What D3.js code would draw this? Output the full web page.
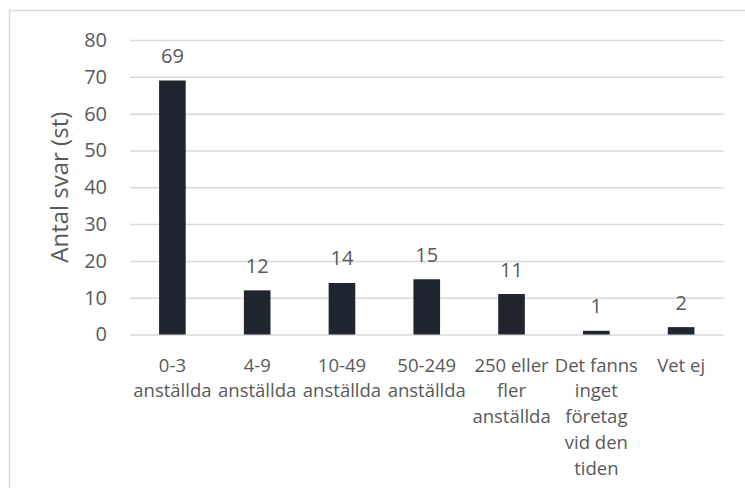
<!DOCTYPE html>
<html>
<head>
<meta charset="utf-8">
<script src="https://cdn.jsdelivr.net/npm/d3@7"></script>
<style>
  html, body { margin: 0; padding: 0; background: #fff; }
  svg { display: block; font-family: "Open Sans", "Noto Sans", sans-serif; }
</style>
</head>
<body>
<svg id="chart" width="745" height="488"></svg>
<script>
// Företagsstorlek: antal svar per kategori
const categories = [
  "0-3\nanställda",
  "4-9\nanställda",
  "10-49\nanställda",
  "50-249\nanställda",
  "250 eller\nfler\nanställda",
  "Det fanns\ninget\nföretag\nvid den\ntiden",
  "Vet ej"
];
const values = [69, 12, 14, 15, 11, 1, 2];
const yTicks = [0, 10, 20, 30, 40, 50, 60, 70, 80];
const yTitle = "Antal svar (st)";

const svg = d3.select("#chart");
const W = 745, H = 488;
const plot = { left: 130, right: 723.5, top: 40, bottom: 334.5 };

const textColor = "#595959";
const gridColor = "#d9d9d9";
const barColor = "#1f2630";

// Chart area frame
svg.append("rect")
  .attr("x", 9.5).attr("y", 10.5)
  .attr("width", W + 20).attr("height", H + 20)
  .attr("fill", "#fff")
  .attr("stroke", gridColor)
  .attr("stroke-width", 1.5);

const x = d3.scaleBand()
  .domain(categories)
  .range([plot.left, plot.right])
  .paddingInner(0.686)
  .paddingOuter(0.343);

const y = d3.scaleLinear()
  .domain([0, 80])
  .range([plot.bottom, plot.top]);

// Gridlines and y tick labels
const yAxis = d3.axisLeft(y)
  .tickValues(yTicks)
  .tickSize(-(plot.right - plot.left))
  .tickPadding(23);

const gy = svg.append("g")
  .attr("transform", `translate(${plot.left},0)`)
  .call(yAxis);
gy.select(".domain").remove();
gy.selectAll(".tick line")
  .attr("stroke", gridColor)
  .attr("stroke-width", 1.5);
gy.selectAll(".tick text")
  .attr("fill", textColor)
  .attr("font-size", 20)
  .attr("font-family", "Open Sans, sans-serif");

// Y axis title
svg.append("text")
  .attr("transform", `translate(68,${(plot.top + plot.bottom) / 2}) rotate(-90)`)
  .attr("text-anchor", "middle")
  .attr("fill", textColor)
  .attr("font-size", 24)
  .text(yTitle);

// Bars
svg.append("g").selectAll("rect")
  .data(values)
  .join("rect")
  .attr("x", (d, i) => x(categories[i]))
  .attr("y", d => y(d))
  .attr("width", x.bandwidth())
  .attr("height", d => y(0) - y(d))
  .attr("fill", barColor);

// Value labels
svg.append("g").selectAll("text")
  .data(values)
  .join("text")
  .attr("x", (d, i) => x(categories[i]) + x.bandwidth() / 2)
  .attr("y", d => y(d) - 17.5)
  .attr("text-anchor", "middle")
  .attr("fill", textColor)
  .attr("font-size", 20)
  .text(d => d);

// Category labels (x axis)
const xAxis = d3.axisBottom(x).tickSize(0).tickFormat("");
const gx = svg.append("g")
  .attr("transform", `translate(0,${plot.bottom})`)
  .call(xAxis);
gx.select(".domain").remove();
gx.selectAll(".tick").each(function(d) {
  const lines = d.split("\n");
  const t = d3.select(this).append("text")
    .attr("text-anchor", "middle")
    .attr("fill", textColor)
    .attr("font-size", 18.5)
    .attr("font-family", "Open Sans, sans-serif");
  lines.forEach((ln, k) => {
    t.append("tspan")
      .attr("x", 0)
      .attr("y", 37 + k * 25.8)
      .text(ln);
  });
});
</script>
</body>
</html>
